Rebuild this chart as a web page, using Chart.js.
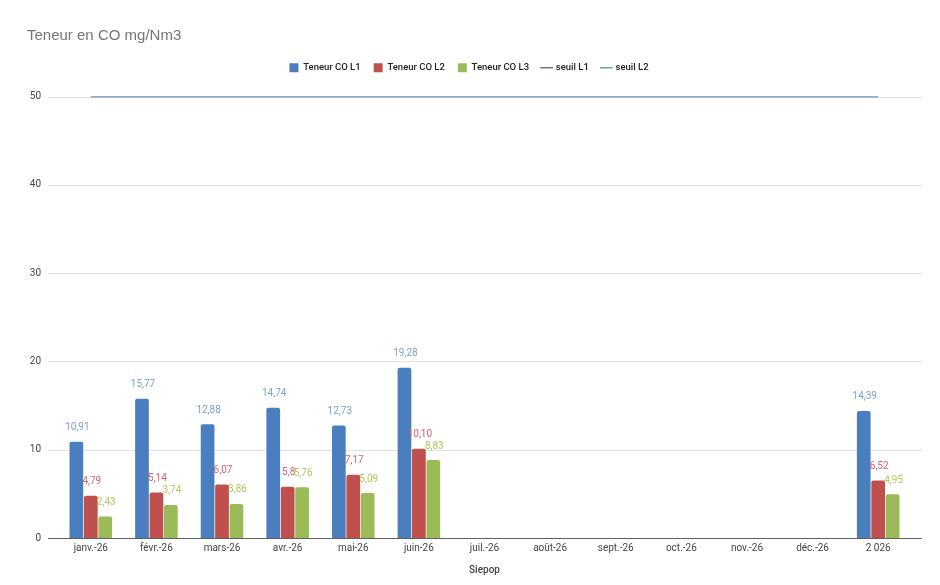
<!DOCTYPE html>
<html>
<head>
<meta charset="utf-8">
<script src="https://cdn.jsdelivr.net/npm/chart.js@4/dist/chart.umd.min.js"></script>
<style>
  body { margin: 0; background: #fff; }
  #wrap { width: 940px; height: 585px; }
</style>
</head>
<body>
<div id="wrap"><canvas id="coChart"></canvas></div>
<script>
// Données
const mois = ['janv.-26', 'févr.-26', 'mars-26', 'avr.-26', 'mai-26', 'juin-26', 'juil.-26', 'août-26', 'sept.-26', 'oct.-26', 'nov.-26', 'déc.-26', '2 026'];
const teneurL1 = ['10.91', '15.77', '12.88', '14.74', '12.73', '19.28', null, null, null, null, null, null, '14.39'];
const teneurL2 = ['4.79', '5.14', '6.07', '5.8', '7.17', '10.10', null, null, null, null, null, null, '6.52'];
const teneurL3 = ['2.43', '3.74', '3.86', '5.76', '5.09', '8.83', null, null, null, null, null, null, '4.95'];
const seuilL1 = [50, 50, 50, 50, 50, 50, 50, 50, 50, 50, 50, 50, 50];
const seuilL2 = [50, 50, 50, 50, 50, 50, 50, 50, 50, 50, 50, 50, 50];
const yTicks = [0, 10, 20, 30, 40, 50];

const police = 'Roboto, Arial, sans-serif';

// grille horizontale un peu plus large que la zone des barres
const grillePlugin = {
    id: 'grille',
    beforeInit(chart) {
        // un peu d'espace sous la légende
        const fit = chart.legend.fit;
        chart.legend.fit = function () {
            fit.call(this);
            this.height += 14;
        };
    },
    beforeDatasetsDraw(chart) {
        const { ctx, chartArea } = chart;
        const y = chart.scales.y;
        ctx.save();
        yTicks.forEach(v => {
            const py = Math.round(y.getPixelForValue(v)) + 0.5;
            ctx.strokeStyle = v === 0 ? '#5f5f5f' : '#e3e3e3';
            ctx.lineWidth = 1;
            ctx.beginPath();
            ctx.moveTo(chartArea.left - 10, py);
            ctx.lineTo(chartArea.right + 11, py);
            ctx.stroke();
        });
        ctx.restore();
    }
};

// étiquettes de valeurs au-dessus des barres
const etiquettesPlugin = {
    id: 'etiquettes',
    afterDatasetsDraw(chart) {
        const { ctx } = chart;
        ctx.save();
        ctx.font = '10px ' + police;
        ctx.textAlign = 'center';
        ctx.textBaseline = 'middle';
        chart.data.datasets.forEach((ds, i) => {
            if (ds.type !== 'bar') return;
            const meta = chart.getDatasetMeta(i);
            ctx.fillStyle = ds.labelColor;
            meta.data.forEach((bar, j) => {
                const raw = ds.data[j];
                if (raw === null) return;
                ctx.fillText(String(raw).replace('.', ','), bar.x + 1, bar.y - 14);
            });
        });
        ctx.restore();
    }
};

const barre = (label, data, color, labelColor) => ({
    type: 'bar',
    label: label,
    data: data,
    backgroundColor: color,
    labelColor: labelColor,
    borderWidth: 0,
    borderRadius: { topLeft: 2, topRight: 2 },
    borderSkipped: 'bottom',
    categoryPercentage: 0.66,
    barPercentage: 0.95,
    pointStyle: 'rect'
});

const ctx = document.getElementById('coChart').getContext('2d');
new Chart(ctx, {
    data: {
        labels: mois,
        datasets: [
            barre('Teneur CO L1', teneurL1, '#4a7ebf', '#7a9fd3'),
            barre('Teneur CO L2', teneurL2, '#c0504d', '#d4636c'),
            barre('Teneur CO L3', teneurL3, '#9bbb59', '#b3c65a'),
            {
                type: 'line',
                label: 'seuil L1',
                data: seuilL1,
                borderColor: '#8064a2',
                backgroundColor: '#8064a2',
                borderWidth: 1.5,
                pointRadius: 0,
                pointStyle: 'line'
            },
            {
                type: 'line',
                label: 'seuil L2',
                data: seuilL2,
                order: -1,
                borderColor: '#5aa6c4',
                backgroundColor: '#5aa6c4',
                borderWidth: 1.5,
                pointRadius: 0,
                pointStyle: 'line'
            }
        ]
    },
    options: {
        responsive: true,
        maintainAspectRatio: false,
        animation: false,
        layout: { padding: { left: 27, right: 29, top: 0, bottom: 9 } },
        plugins: {
            title: {
                display: true,
                text: 'Teneur en CO mg/Nm3',
                align: 'start',
                color: '#757575',
                font: { family: 'Arial, "Liberation Sans", sans-serif', size: 15, weight: 'normal' },
                padding: { top: 27, bottom: 5 }
            },
            legend: {
                display: true,
                position: 'top',
                labels: {
                    usePointStyle: true,
                    boxWidth: 9,
                    boxHeight: 9,
                    padding: 13,
                    color: '#222',
                    font: { family: police, size: 9.5, weight: '500' },
                    sort: (a, b) => a.datasetIndex - b.datasetIndex
                }
            },
            tooltip: { enabled: false }
        },
        scales: {
            x: {
                offset: true,
                grid: { display: false, drawTicks: false },
                border: { display: false },
                ticks: {
                    color: '#444',
                    font: { family: police, size: 10 },
                    maxRotation: 0,
                    autoSkip: false,
                    padding: 4
                },
                title: {
                    display: true,
                    text: 'Siepop',
                    color: '#444',
                    font: { family: police, size: 10, weight: '500' },
                    padding: { top: 6, bottom: 0 }
                }
            },
            y: {
                min: 0,
                max: 50,
                afterFit: s => { s.width = 31; },
                grid: { display: false, drawTicks: false },
                border: { display: false },
                ticks: {
                    stepSize: 10,
                    color: '#444',
                    font: { family: police, size: 10 },
                    padding: 17
                }
            }
        }
    },
    plugins: [grillePlugin, etiquettesPlugin]
});
</script>
</body>
</html>
